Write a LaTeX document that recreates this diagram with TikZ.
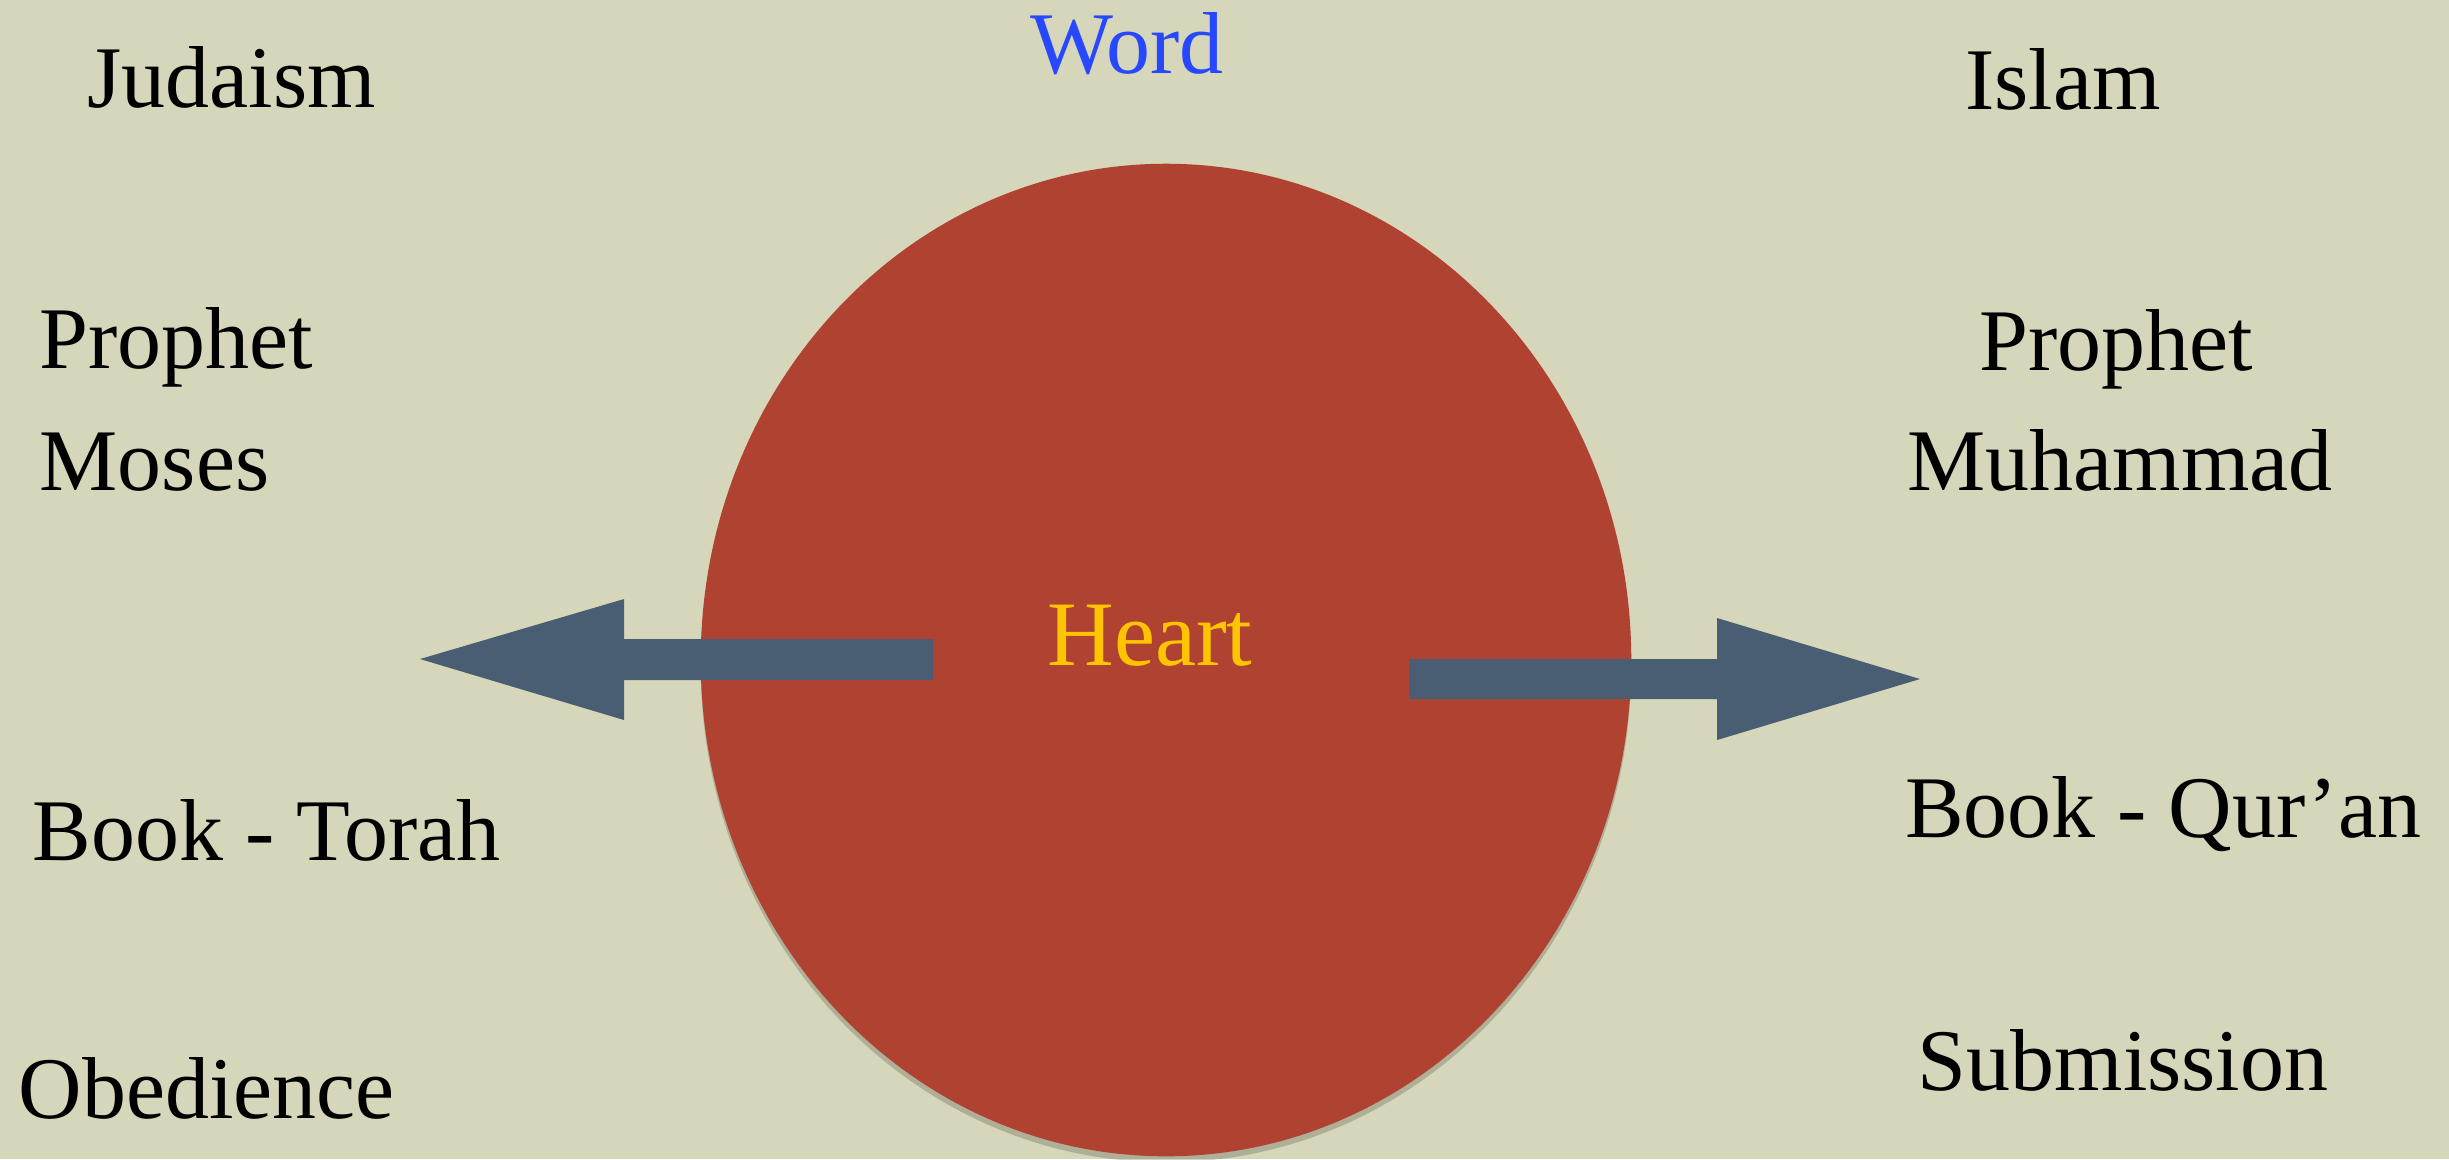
\documentclass[tikz,border=0pt]{standalone}
\usepackage{fontspec}
\setmainfont{Liberation Serif}
\usetikzlibrary{shapes.geometric,shadows}

\definecolor{paper}{RGB}{214,214,186}
\definecolor{heartred}{RGB}{176,66,50}
\definecolor{arrowslate}{RGB}{74,94,115}
\definecolor{wordblue}{RGB}{40,72,255}
\definecolor{heartgold}{RGB}{255,196,0}

\tikzset{
  termtext/.style={font=\fontsize{25}{30}\selectfont, text=black, inner sep=0pt},
  blockarrow/.style={fill=arrowslate},
}

\begin{document}
\begin{tikzpicture}[x=0.01cm, y=-0.01cm]
      % Paper background, fixes the page size
      \fill[paper] (0,0) rectangle (2449,1159);
      \useasboundingbox (0,0) rectangle (2449,1159);

      % Red disc in the middle
      \node[ellipse, fill=heartred, minimum width=9.3cm, minimum height=9.92cm, inner sep=0pt,
            drop shadow={shadow xshift=0cm, shadow yshift=-0.06cm, opacity=0.18, fill=black}] (disc) at (1166,660) {};

      % Block arrows out of the disc
      \coordinate (ltip) at (420,659);
      \coordinate (rtip) at (1920,679);
      \fill[blockarrow] (933,639) -- (624,639) -- (624,599) -- (ltip) -- (624,720) -- (624,680) -- (933,680) -- cycle;
      \fill[blockarrow] (1409,659) -- (1717,659) -- (1717,618) -- (rtip) -- (1717,740) -- (1717,699) -- (1409,699) -- cycle;

      % Top and centre words
      \node[termtext, text=wordblue, anchor=base] (word) at (1127,73) {Word};
      \node[termtext, text=heartgold, anchor=base, scale=1.05] (heart) at (1150,665) {Heart};

      % Left column
      \node[termtext, anchor=base west] (judaism) at (87,107) {Judaism};
      \node[termtext, anchor=base west] (jprophet) at (39,368) {Prophet};
      \node[termtext, anchor=base west] (moses) at (39,490) {Moses};
      \node[termtext, anchor=base west] (torah) at (32,860) {Book - Torah};
      \node[termtext, anchor=base west] (obedience) at (18,1118) {Obedience};

      % Right column
      \node[termtext, anchor=base] (islam) at (2063,109) {Islam};
      \node[termtext, anchor=base] (iprophet) at (2116,370) {Prophet};
      \node[termtext, anchor=base] (muhammad) at (2120,490) {Muhammad};
      \node[termtext, anchor=base] (quran) at (2163,837) {Book - Qur’an};
      \node[termtext, anchor=base] (submission) at (2123,1090) {Submission};
    \end{tikzpicture}
\end{document}
